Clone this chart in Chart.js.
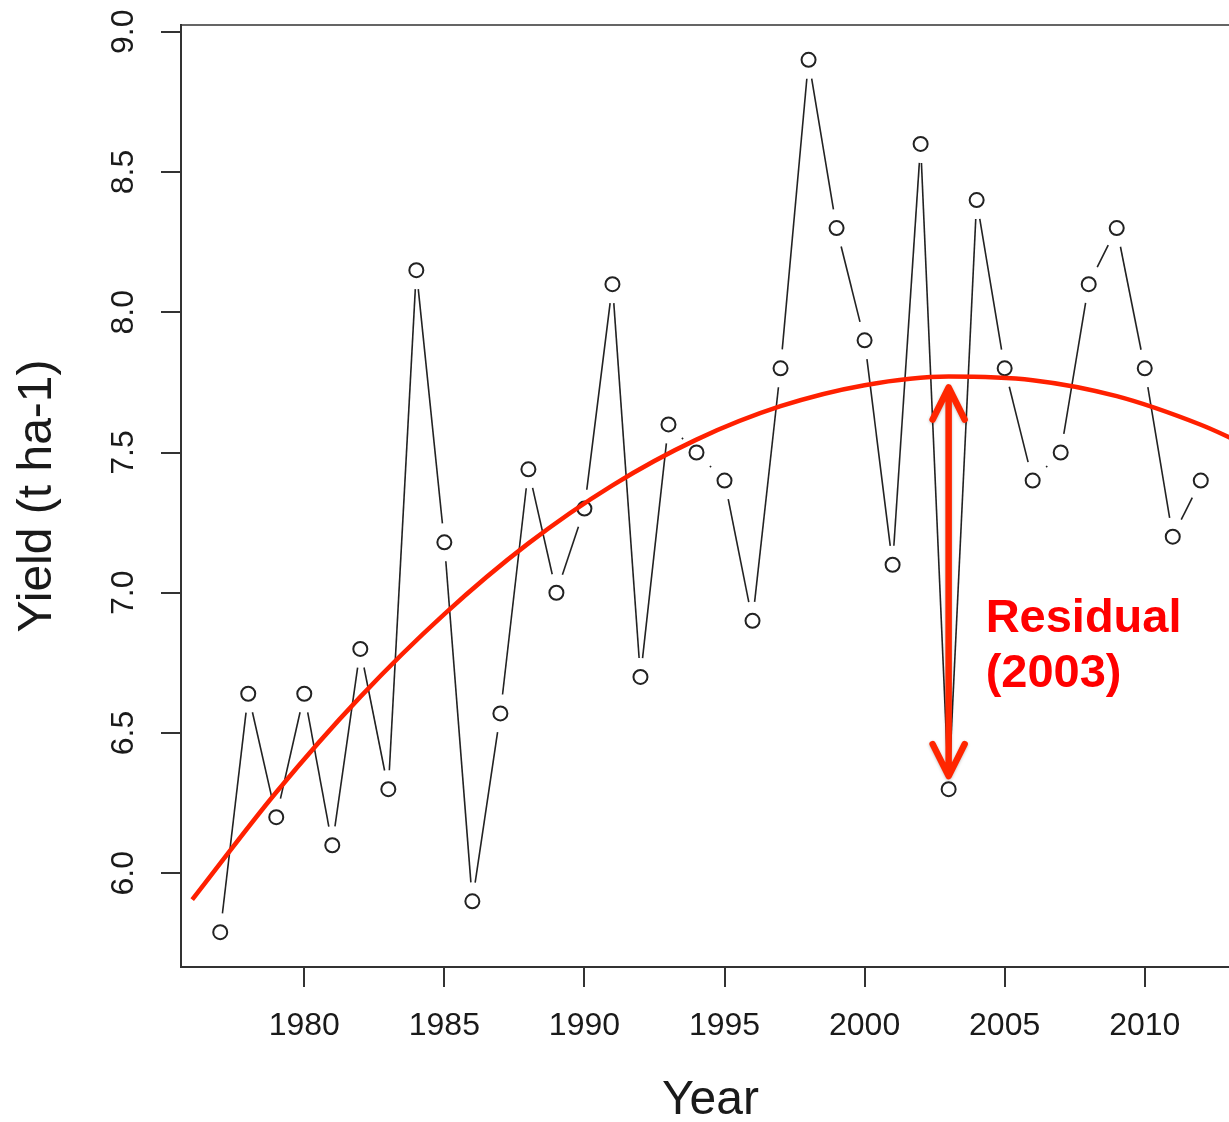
<!DOCTYPE html>
<html>
<head>
<meta charset="utf-8">
<title>Yield trend</title>
<script src="https://cdn.jsdelivr.net/npm/chart.js@4.4.1/dist/chart.umd.min.js"></script>
<style>
  html, body { margin: 0; padding: 0; background: #fff; overflow: hidden; }
  canvas { display: block; }
</style>
</head>
<body>
<canvas id="yieldChart" width="1250" height="1122"></canvas>
<script>
// ------------------
// data
// ------------------
const years = [1977, 1978, 1979, 1980, 1981, 1982, 1983, 1984, 1985, 1986, 1987, 1988,
  1989, 1990, 1991, 1992, 1993, 1994, 1995, 1996, 1997, 1998, 1999, 2000,
  2001, 2002, 2003, 2004, 2005, 2006, 2007, 2008, 2009, 2010, 2011, 2012];
const yieldValues = [5.79, 6.64, 6.20, 6.64, 6.10, 6.80, 6.30, 8.15, 7.18, 5.90, 6.57, 7.44,
  7.00, 7.30, 8.10, 6.70, 7.60, 7.50, 7.40, 6.90, 7.80, 8.90, 8.30, 7.90,
  7.10, 8.60, 6.30, 8.40, 7.80, 7.40, 7.50, 8.10, 8.30, 7.80, 7.20, 7.40];

// fitted trend
const trendYears = [1976, 1979, 1982, 1985, 1988, 1991, 1994, 1997, 2000, 2003, 2006, 2009, 2012, 2013.4];
const trendValues = [5.906, 6.289, 6.629, 6.924, 7.176, 7.383, 7.546, 7.665, 7.740, 7.771, 7.758, 7.701, 7.599, 7.537];

const xTickValues = [1980, 1985, 1990, 1995, 2000, 2005, 2010];
const yTickValues = [6.0, 6.5, 7.0, 7.5, 8.0, 8.5, 9.0];

const residualYear = 2003;
const residualLabel = ["Residual", "(" + residualYear + ")"];

const FONT = "'Liberation Sans', Arial, Helvetica, sans-serif";
const INK = "#1a1a1a";

// ------------------
// plugins
// ------------------

// R-style "b" lines: segments stop short of each point
const gappedLines = {
  id: "gappedLines",
  beforeDatasetsDraw(chart) {
    const meta = chart.getDatasetMeta(1);
    const ctx = chart.ctx;
    const area = chart.chartArea;
    const gap = 19;
    ctx.save();
    ctx.beginPath();
    ctx.rect(area.left, area.top, area.right - area.left, area.bottom - area.top);
    ctx.clip();
    ctx.strokeStyle = "#222";
    ctx.lineWidth = 1.6;
    for (let i = 1; i < meta.data.length; i++) {
      const a = meta.data[i - 1];
      const b = meta.data[i];
      const dx = b.x - a.x;
      const dy = b.y - a.y;
      const len = Math.hypot(dx, dy);
      if (len <= gap * 2) continue;
      const ux = dx / len, uy = dy / len;
      ctx.beginPath();
      ctx.moveTo(a.x + ux * gap, a.y + uy * gap);
      ctx.lineTo(b.x - ux * gap, b.y - uy * gap);
      ctx.stroke();
    }
    ctx.restore();
  }
};

// frame around the plot (right edge falls outside the canvas view)
const plotBox = {
  id: "plotBox",
  afterDraw(chart) {
    const { ctx, chartArea } = chart;
    ctx.save();
    ctx.strokeStyle = "#333";
    ctx.lineWidth = 1.5;
    ctx.strokeRect(chartArea.left, chartArea.top, chartArea.right - chartArea.left, chartArea.bottom - chartArea.top);
    ctx.restore();
  }
};

// double arrow between the trend and the observed value, plus label
const residualArrow = {
  id: "residualArrow",
  afterDatasetsDraw(chart) {
    const ctx = chart.ctx;
    const xs = chart.scales.x;
    const ys = chart.scales.y;
    const idx = years.indexOf(residualYear);
    const trendAt = trendValues[trendYears.indexOf(residualYear)];
    const x = xs.getPixelForValue(residualYear);
    const top = ys.getPixelForValue(trendAt) + 11;
    const bottom = ys.getPixelForValue(yieldValues[idx]) - 13;
    const head = 32, half = 16;

    ctx.save();
    ctx.strokeStyle = "rgb(255, 38, 0)";
    ctx.lineWidth = 6.5;
    ctx.lineCap = "round";
    ctx.lineJoin = "round";
    ctx.shadowColor = "rgba(0, 0, 0, 0.25)";
    ctx.shadowBlur = 3;
    ctx.shadowOffsetY = 1;
    ctx.beginPath();
    ctx.moveTo(x, top + 2);
    ctx.lineTo(x, bottom - 2);
    ctx.moveTo(x - half, top + head);
    ctx.lineTo(x, top);
    ctx.lineTo(x + half, top + head);
    ctx.moveTo(x - half, bottom - head);
    ctx.lineTo(x, bottom);
    ctx.lineTo(x + half, bottom - head);
    ctx.stroke();
    ctx.restore();

    ctx.save();
    ctx.fillStyle = "rgb(255, 0, 0)";
    ctx.font = "bold 47px " + FONT;
    ctx.textAlign = "left";
    ctx.textBaseline = "alphabetic";
    const tx = x + 37;
    const ty = ys.getPixelForValue(6.86);
    ctx.fillText(residualLabel[0], tx, ty);
    ctx.fillText(residualLabel[1], tx, ty + 55);
    ctx.restore();
  }
};

// ------------------
// chart setup
// ------------------
function createChart() {
  const ctx = document.getElementById("yieldChart");

  new Chart(ctx, {
    type: "line",
    data: {
      datasets: [
        {
          label: "Trend",
          data: trendYears.map((y, i) => ({ x: y, y: trendValues[i] })),
          borderColor: "rgb(255, 32, 0)",
          borderWidth: 4.5,
          pointRadius: 0,
          cubicInterpolationMode: "monotone",
          fill: false
        },
        {
          label: "Yield",
          data: years.map((y, i) => ({ x: y, y: yieldValues[i] })),
          showLine: false,
          pointRadius: 7,
          pointBorderWidth: 2,
          pointBorderColor: "#222",
          pointBackgroundColor: "rgba(0,0,0,0)"
        }
      ]
    },
    options: {
      responsive: false,
      animation: false,
      devicePixelRatio: 1,
      layout: { padding: { left: 0, right: 10, top: 25, bottom: 0 } },
      plugins: {
        legend: { display: false },
        tooltip: { enabled: false }
      },
      scales: {
        x: {
          type: "linear",
          min: 1975.6,
          max: 2013.4,
          afterBuildTicks: (scale) => { scale.ticks = xTickValues.map(v => ({ value: v })); },
          afterFit: (scale) => { scale.height = 155; },
          grid: { drawOnChartArea: false, drawTicks: true, tickLength: 20, color: "#333", lineWidth: 2 },
          border: { display: true, color: "#333", width: 2 },
          ticks: {
            padding: 20,
            maxRotation: 0,
            minRotation: 0,
            color: INK,
            font: { family: FONT, size: 32 },
            callback: (v) => String(v)
          },
          title: {
            display: true,
            text: "Year",
            color: INK,
            font: { family: FONT, size: 48, lineHeight: 0.9 },
            padding: { top: 0, bottom: 0 }
          }
        },
        y: {
          type: "linear",
          min: 5.666,
          max: 9.024,
          afterBuildTicks: (scale) => { scale.ticks = yTickValues.map(v => ({ value: v })); },
          afterFit: (scale) => {
            scale.width = 181;
            scale.paddingTop = 0;
            scale.paddingBottom = 0;
          },
          grid: { drawOnChartArea: false, drawTicks: true, tickLength: 20, color: "#333", lineWidth: 2 },
          border: { display: true, color: "#333", width: 2 },
          ticks: {
            padding: 15,
            minRotation: 90,
            maxRotation: 90,
            crossAlign: "center",
            color: INK,
            font: { family: FONT, size: 32 },
            callback: (v) => Number(v).toFixed(1)
          },
          title: {
            display: true,
            text: "Yield (t ha-1)",
            color: INK,
            font: { family: FONT, size: 48 },
            padding: { top: 9, bottom: 0 }
          }
        }
      }
    },
    plugins: [gappedLines, plotBox, residualArrow]
  });
}

window.onload = () => {
  createChart();
};
</script>
</body>
</html>
